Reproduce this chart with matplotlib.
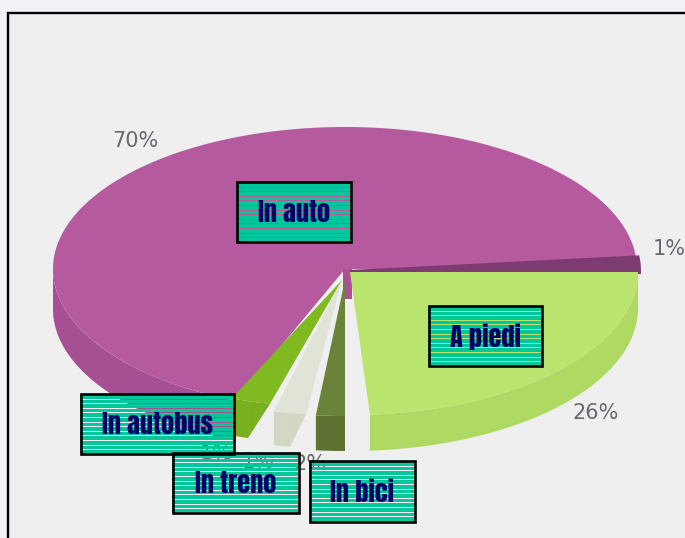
import numpy as np
import matplotlib
matplotlib.use("Agg")
import matplotlib.pyplot as plt
from matplotlib import font_manager as fm
from matplotlib.patches import Polygon, Rectangle

# ---- data ----
categories = ["In auto", "Quota 1%", "A piedi", "In bici", "In treno", "In autobus"]
shares = [69.5, 1.9, 23.9, 1.6, 1.8, 2.2]          # slice sizes as drawn (% of the circle)
pct_labels = ["70%", "1%", "26%", "2%", "1%", "1%"]  # percentages as printed

# ---- layout ----
start_deg = [-112.0, 6.0, 0.0, -90.0, -97.1, -104.4]  # angle where each slice starts, clockwise
centers = [(345, 269), (350, 271), (350, 272), (345, 280), (342, 280), (342, 280)]
radii = [(292, 142), (290, 140), (288, 143), (290, 136), (290, 135), (290, 128)]
depths = [40, 0, 36, 35, 34, 37]
wall_from = [0, 0, 0, 0, 3.2, 4.5]                  # degrees of the outer wall left undrawn
top_col = ["#b55a9f", "#7d3b72", "#b9e56f", "#6b8239", "#dfe4d6", "#80ba20"]
wall_col = ["#a64f93", "#7d3b72", "#aed962", "#5d7233", "#d3d8c4", "#79b01f"]
label_pos = [(135, 141), (669, 249), (596, 413), (310, 464), (258, 462), (216, 454)]
boxes = {"In auto": (236, 181, 352, 243), "A piedi": (428, 305, 543, 367),
         "In autobus": (80, 393, 235, 455), "In treno": (172, 452, 300, 514),
         "In bici": (309, 460, 416, 523)}

installed = {f.name for f in fm.fontManager.ttflist}
box_font = next(n for n in ["Anton", "Fjalla One", "Oswald", "Fira Sans Extra Condensed", "DejaVu Sans"]
                if n in installed)

fig = plt.figure(figsize=(6.85, 5.38), dpi=100, facecolor="#f2f2f7")
ax = fig.add_axes([0, 0, 1, 1])
ax.set_xlim(0, 685)
ax.set_ylim(538, 0)
ax.axis("off")

# panel
ax.add_patch(Rectangle((8, 13), 690, 540, fc="#efefef", ec="black", lw=1.7, zorder=0))


def arc(c, r, a0, a1, n=200):
    t = np.radians(np.linspace(a0, a1, n))
    return np.column_stack([c[0] + r[0] * np.cos(t), c[1] - r[1] * np.sin(t)])


order = [0, 1, 5, 4, 3, 2]
for z, i in enumerate(order):
    a0 = start_deg[i]
    a1 = a0 - shares[i] * 3.6
    c, r = centers[i], radii[i]
    if depths[i]:
        w0 = min(a0 - wall_from[i], 0)
        w1 = max(a1, -180)
        if w1 < w0:
            top = arc(c, r, w0, w1)
            bot = top + [0, depths[i]]
            ax.add_patch(Polygon(np.vstack([top, bot[::-1]]), fc=wall_col[i],
                                 ec="none", zorder=2 + z * 0.1))
        if wall_from[i]:
            # diagonal closing the trimmed wall back to the slice corner
            p_top = arc(c, r, a0, a0, 1)[0]
            p_mid = arc(c, r, w0, w0, 1)[0]
            ax.add_patch(Polygon([p_top, p_mid + [0, depths[i]], p_mid], fc=wall_col[i],
                                 ec="none", zorder=2 + z * 0.1))
    edge = top_col[i] if depths[i] == 0 else "none"
    ax.add_patch(Polygon(np.vstack([[c], arc(c, r, a0, a1)]), fc=top_col[i], ec=edge, lw=1.4,
                         zorder=2.05 + z * 0.1))
    if i == 0:
        # magenta core seen behind the small slices, just under the centre
        ax.add_patch(Rectangle((c[0] - 2, c[1]), 9, depths[i] * 0.75, fc="#ad4f97",
                               ec="none", zorder=2.06))

for lab, (x, y) in zip(pct_labels, label_pos):
    ax.text(x, y, lab, fontsize=15, color="#666a6c", ha="center", va="center",
            family="DejaVu Sans", zorder=3)

# striped label boxes: whole-pixel bands with one-pixel gaps that let the back show
row_step = 4.6
for name, (x0, y0, x1, y1) in boxes.items():
    edges = np.round(np.arange(y0 + 2, y1 - 2, row_step))
    for k, y in enumerate(edges):
        end = edges[k + 1] - 1 if k + 1 < len(edges) else y1 - 2
        ax.add_patch(Rectangle((x0, y), x1 - x0, end - y, fc="#00c89b", ec="none",
                               antialiased=False, zorder=4))
    ax.add_patch(Rectangle((x0 + 1, y0 + 1), x1 - x0 - 2, y1 - y0 - 2, fc="none",
                           ec="black", lw=1.9, zorder=5))
    ax.text((x0 + x1) / 2, (y0 + y1) / 2 + 0.5, name, fontsize=19, color="#000066",
            ha="center", va="center", family=box_font,
            fontweight="bold" if box_font != "Anton" else "normal", zorder=6)

fig.savefig("out.png", dpi=100, facecolor=fig.get_facecolor())
